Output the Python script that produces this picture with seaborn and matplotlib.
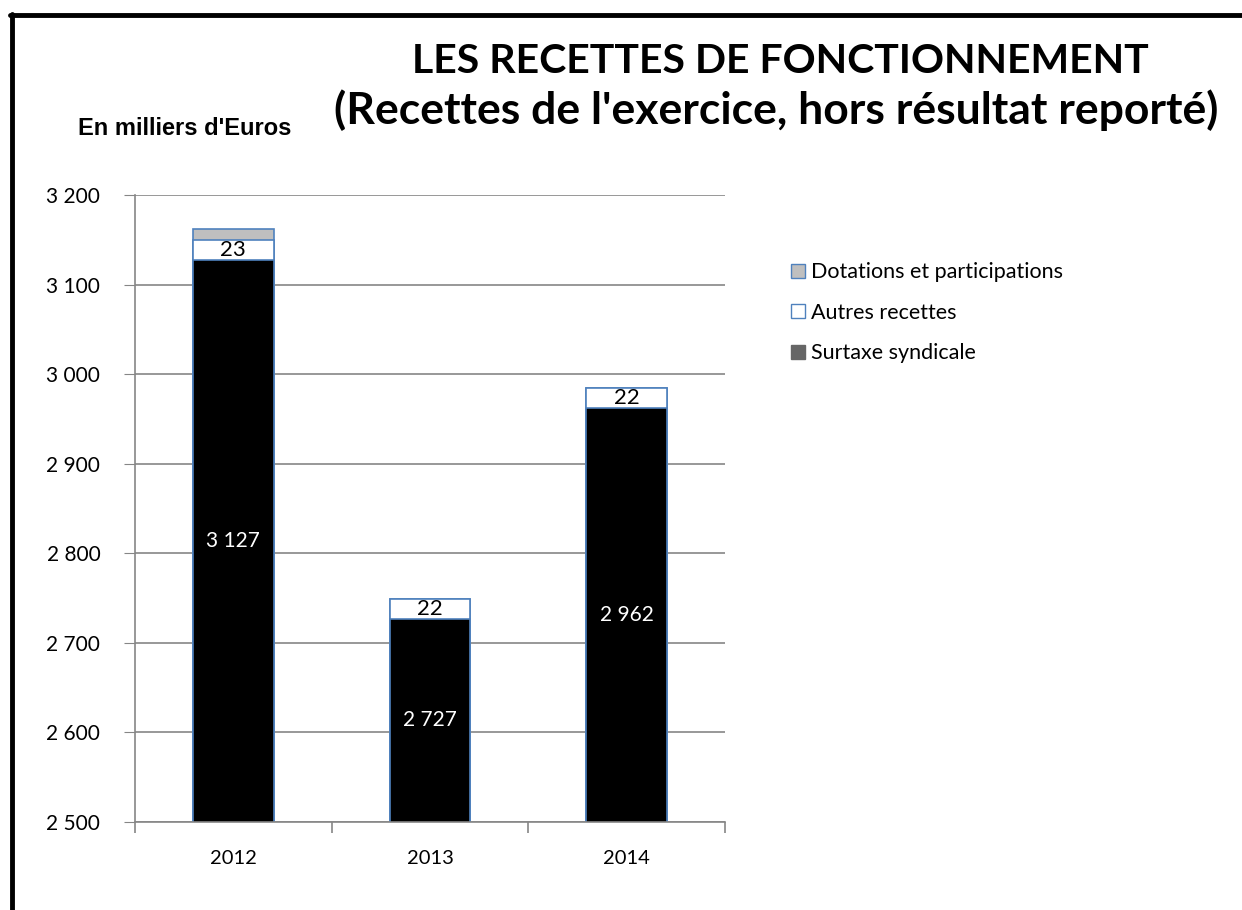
import pandas as pd
import matplotlib.pyplot as plt
import seaborn as sns
from matplotlib.patches import Patch
from matplotlib.lines import Line2D

# Données (en milliers d'euros)
annees = ['2012', '2013', '2014']
surtaxe = [3127, 2727, 2962]
autres = [23, 22, 22]
dotations = [12, 0, 0]

df = pd.DataFrame({'annee': annees, 'surtaxe': surtaxe, 'autres': autres, 'dotations': dotations})
df['cumul_autres'] = df['surtaxe'] + df['autres']
df['cumul_total'] = df['cumul_autres'] + df['dotations']

sns.set_style('white')
plt.rcParams['font.family'] = ['Lato', 'DejaVu Sans']
plt.rcParams['text.color'] = 'black'
plt.rcParams['xtick.labelcolor'] = 'black'
plt.rcParams['ytick.labelcolor'] = 'black'

fig = plt.figure(figsize=(12.42, 9.10), dpi=100)
ax = fig.add_axes([0.1087, 0.0967, 0.475, 0.689])

bord = '#4F81BD'
# couches superposées : total, puis autres, puis surtaxe
sns.barplot(data=df, x='annee', y='cumul_total', color='#BFBFBF', edgecolor=bord,
            linewidth=1.2, width=0.41, saturation=1, ax=ax)
sns.barplot(data=df, x='annee', y='cumul_autres', color='white', edgecolor=bord,
            linewidth=1.2, width=0.41, saturation=1, ax=ax)
sns.barplot(data=df, x='annee', y='surtaxe', color='black', edgecolor=bord,
            linewidth=1.2, width=0.41, saturation=1, ax=ax)

ax.set_ylim(2500, 3200)
ax.set_yticks(range(2500, 3201, 100))
ax.set_yticklabels([f'{v // 1000} {v % 1000:03d}' for v in range(2500, 3201, 100)])
ax.set_xlim(-0.5, 2.5)
ax.set_xlabel('')
ax.set_ylabel('')
ax.yaxis.grid(True, color='#868686', linewidth=1.2)
ax.set_axisbelow(True)
for s in ['top', 'right']:
    ax.spines[s].set_visible(False)
for s in ['left', 'bottom']:
    ax.spines[s].set_color('#868686')
    ax.spines[s].set_linewidth(1.2)
ax.tick_params(axis='y', left=True, length=8, color='#868686', labelsize=15, pad=17)
ax.tick_params(axis='x', bottom=False, labelsize=14.5, pad=17)
# petits traits entre les catégories
ax.set_xticks([-0.5, 0.5, 1.5, 2.5], minor=True)
ax.tick_params(axis='x', which='minor', bottom=True, length=8, color='#868686', width=1.2)

# étiquettes
for i, row in df.iterrows():
    mid = (2500 + row['surtaxe']) / 2
    ax.text(i, mid, f"{row['surtaxe'] // 1000} {row['surtaxe'] % 1000:03d}",
            color='white', ha='center', va='center', fontsize=15)
    ax.text(i, row['surtaxe'] + row['autres'] / 2, str(row['autres']),
            color='black', ha='center', va='center', fontsize=16)

# légende
poignees = [Patch(facecolor='#BFBFBF', edgecolor=bord, label='Dotations et participations'),
            Patch(facecolor='white', edgecolor=bord, label='Autres recettes'),
            Patch(facecolor='#666666', edgecolor='#666666', label='Surtaxe syndicale')]
fig.legend(handles=poignees, loc='upper left', bbox_to_anchor=(0.621, 0.733),
           frameon=False, fontsize=15.5, handlelength=0.65, handleheight=0.65,
           handletextpad=0.3, labelspacing=0.95)

# titres
fig.text(0.628, 0.932, 'LES RECETTES DE FONCTIONNEMENT', ha='center', va='center',
         fontsize=29.5, fontweight='bold')
fig.text(0.625, 0.879, "(Recettes de l'exercice, hors résultat reporté)", ha='center',
         va='center', fontsize=32, fontweight='bold')
fig.text(0.149, 0.859, "En milliers d'Euros", ha='center', va='center', fontsize=17,
         fontweight='bold', family='Liberation Sans')

# cadre noir (gauche et haut)
fig.add_artist(Line2D([0.0097, 0.0097], [0, 0.985], color='black', linewidth=3.5,
                      transform=fig.transFigure))
fig.add_artist(Line2D([0.008, 1.0], [0.984, 0.984], color='black', linewidth=3.5,
                      transform=fig.transFigure))

fig.savefig('out.png', dpi=100)
